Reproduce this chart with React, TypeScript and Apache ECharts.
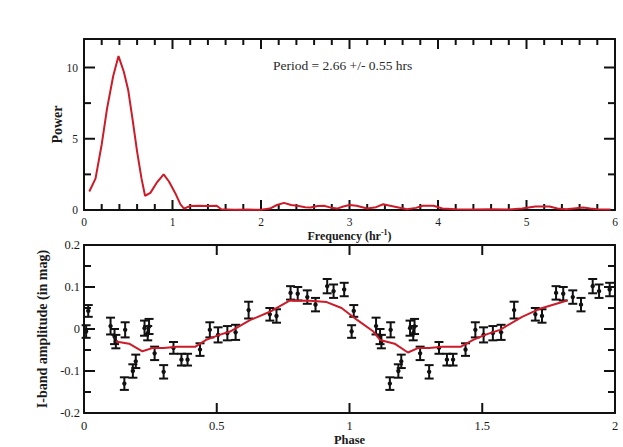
import React, { useEffect, useRef } from "react";
import * as echarts from "echarts";

// Periodogram: [frequency (hr^-1), power]
const periodogram: [number, number][] = [
  [0.06, 1.3], [0.13, 2.2], [0.2, 4.6], [0.26, 7.1], [0.33, 9.4], [0.39, 10.8],
  [0.45, 9.7], [0.5, 8.4], [0.55, 6.3], [0.6, 4.1], [0.65, 2.2], [0.69, 1.0],
  [0.75, 1.2], [0.82, 1.9], [0.9, 2.5], [0.96, 2.0], [1.03, 1.2], [1.09, 0.4],
  [1.13, 0.1], [1.2, 0.28], [1.3, 0.3], [1.4, 0.28], [1.5, 0.3], [1.55, 0.05],
  [1.7, 0.02], [1.85, 0.03], [2.0, 0.02], [2.1, 0.1], [2.18, 0.35], [2.26, 0.5],
  [2.34, 0.35], [2.41, 0.3], [2.5, 0.2], [2.56, 0.17], [2.64, 0.28], [2.71, 0.3],
  [2.8, 0.15], [2.86, 0.1], [2.93, 0.25], [3.0, 0.35], [3.08, 0.3], [3.2, 0.1],
  [3.3, 0.2], [3.38, 0.4], [3.5, 0.25], [3.65, 0.05], [3.75, 0.15], [3.83, 0.3],
  [3.95, 0.3], [4.05, 0.1], [4.2, 0.05], [4.4, 0.04], [4.6, 0.05], [4.8, 0.04],
  [4.95, 0.1], [5.1, 0.25], [5.26, 0.25], [5.35, 0.1], [5.45, 0.05], [5.56, 0.12],
  [5.64, 0.17], [5.72, 0.1], [5.8, 0.05], [5.95, 0.03],
];

// Phase-folded light curve, one cycle: phase, amplitude (mag), error
const cyclePhase = [
  0.008, 0.016, 0.1, 0.115, 0.12, 0.152, 0.155, 0.184, 0.195, 0.228, 0.24, 0.245,
  0.266, 0.3, 0.337, 0.367, 0.39, 0.437, 0.474, 0.505, 0.54, 0.571, 0.62, 0.7,
  0.725, 0.778, 0.805, 0.841, 0.872, 0.916, 0.94, 0.98,
];
const cycleAmp = [
  -0.006, 0.043, 0.007, -0.018, -0.03, -0.13, -0.002, -0.1, -0.077, 0.002, -0.01, 0.006,
  -0.058, -0.102, -0.045, -0.073, -0.073, -0.049, -0.002, -0.014, -0.01, -0.008, 0.045, 0.035,
  0.031, 0.086, 0.084, 0.076, 0.058, 0.102, 0.09, 0.094,
];
const cycleErr = [
  0.015, 0.014, 0.02, 0.018, 0.016, 0.015, 0.018, 0.016, 0.016, 0.018, 0.017, 0.018,
  0.016, 0.016, 0.014, 0.014, 0.014, 0.015, 0.018, 0.018, 0.017, 0.018, 0.02, 0.015,
  0.016, 0.016, 0.016, 0.016, 0.016, 0.017, 0.016, 0.016,
];
// The plot shows the folded cycle twice (phase 0-1 and 1-2)
const cycleOffsets = [0, 1];

// Red model curve: [phase, amplitude]
const fitCurve: [number, number][] = [
  [0.12, -0.03], [0.17, -0.035], [0.22, -0.053], [0.26, -0.045], [0.3, -0.045],
  [0.35, -0.042], [0.42, -0.042], [0.46, -0.026], [0.51, -0.014], [0.55, -0.006],
  [0.625, 0.021], [0.7, 0.041], [0.776, 0.068], [0.85, 0.067], [0.914, 0.064],
  [0.97, 0.05], [1.03, 0.021], [1.09, -0.006], [1.115, -0.026], [1.17, -0.035],
  [1.22, -0.056], [1.26, -0.045], [1.3, -0.045], [1.35, -0.042], [1.42, -0.042],
  [1.466, -0.026], [1.51, -0.014], [1.567, -0.002], [1.65, 0.029], [1.72, 0.049],
  [1.82, 0.068],
];

// Tick values (mirrored on the opposite frame sides)
const freqMajor = [1, 2, 3, 4, 5];
const freqMinor = [0.2, 0.4, 0.6, 0.8, 1.2, 1.4, 1.6, 1.8, 2.2, 2.4, 2.6, 2.8, 3.2, 3.4, 3.6, 3.8, 4.2, 4.4, 4.6, 4.8, 5.2, 5.4, 5.6, 5.8];
const powerMajor = [0, 5, 10];
const powerMinor = [2.5, 7.5];
const phaseMajor = [0.5, 1, 1.5];
const ampMajor = [-0.1, 0, 0.1];
const ampMinor = [-0.15, -0.05, 0.05, 0.15];

const titleText = "Period = 2.66 +/- 0.55 hrs";

const FONT = "Liberation Serif, Times New Roman, serif";
const INK = "#111";
const RED = "#cc1b29";

const axLine = () => ({ show: true, onZero: false, lineStyle: { color: INK, width: 2 } });
const lbl = (size: number, margin: number) => ({
  show: true, margin, fontFamily: FONT, fontSize: size, color: "#1a1a1a",
});
const nameTS = (size: number) => ({ fontFamily: FONT, fontSize: size, fontWeight: "bold", color: "#1a1a1a" });

// kind: 0 x-major, 1 x-minor, 2 y-major, 3 y-minor
const tickItems = (xMaj: number[], xMin: number[], yMaj: number[], yMin: number[]) => [
  ...xMaj.map((v) => [v, 0]),
  ...xMin.map((v) => [v, 1]),
  ...yMaj.map((v) => [v, 2]),
  ...yMin.map((v) => [v, 3]),
];

const tickRenderer = (x0: number, x1: number, y0: number, y1: number) => (_p: any, api: any) => {
  const v = api.value(0);
  const kind = api.value(1);
  const st = { stroke: INK, lineWidth: 2 };
  if (kind < 2) {
    const len = kind === 0 ? 10 : 6;
    const b = api.coord([v, y0]);
    const t = api.coord([v, y1]);
    return {
      type: "group",
      children: [
        { type: "line", shape: { x1: b[0], y1: b[1], x2: b[0], y2: b[1] - len }, style: st },
        { type: "line", shape: { x1: t[0], y1: t[1], x2: t[0], y2: t[1] + len }, style: st },
      ],
    };
  }
  const len = kind === 2 ? 11 : 7;
  const l = api.coord([x0, v]);
  const r = api.coord([x1, v]);
  return {
    type: "group",
    children: [
      { type: "line", shape: { x1: l[0], y1: l[1], x2: l[0] + len, y2: l[1] }, style: st },
      { type: "line", shape: { x1: r[0], y1: r[1], x2: r[0] - len, y2: r[1] }, style: st },
    ],
  };
};

export default function App() {
  const ref = useRef<HTMLDivElement>(null);

  useEffect(() => {
    document.body.style.margin = "0";
    if (!ref.current) return;
    const chart = echarts.init(ref.current, null, { renderer: "svg" });

    const errData: number[][] = [];
    cycleOffsets.forEach((off) => {
      cyclePhase.forEach((p, i) => errData.push([p + off, cycleAmp[i], cycleErr[i]]));
    });

    chart.setOption({
      animation: false,
      grid: [
        { left: 84, right: 8, top: 39, height: 171 },
        { left: 84, right: 8, top: 245, height: 170 },
      ],
      xAxis: [
        {
          type: "value", gridIndex: 0, position: "bottom", min: 0, max: 6, interval: 1,
          axisLine: axLine(), axisTick: { show: false }, minorTick: { show: false },
          axisLabel: lbl(11.5, 6), splitLine: { show: false },
          name: "Frequency (hr{s|-1})", nameLocation: "middle", nameGap: 18,
          nameTextStyle: { ...nameTS(12), rich: { s: { fontFamily: FONT, fontSize: 8, fontWeight: "bold", verticalAlign: "top", padding: [0, 0, 6, 0] } } },
        },
        {
          type: "value", gridIndex: 0, position: "top", min: 0, max: 6, interval: 1,
          axisLine: axLine(), axisTick: { show: false },
          axisLabel: { show: false }, splitLine: { show: false },
        },
        {
          type: "value", gridIndex: 1, min: 0, max: 2, interval: 0.5,
          axisLine: axLine(), axisTick: { show: false },
          axisLabel: lbl(12.5, 6), splitLine: { show: false },
          name: "Phase", nameLocation: "middle", nameGap: 20, nameTextStyle: nameTS(12.5),
        },
        {
          type: "value", gridIndex: 1, min: 0, max: 2, interval: 0.5,
          axisLine: axLine(), axisTick: { show: false },
          axisLabel: { show: false }, splitLine: { show: false },
        },
      ],
      yAxis: [
        {
          type: "value", gridIndex: 0, position: "left", min: 0, max: 12,
          axisLine: axLine(), axisTick: { show: false },
          axisLabel: { ...lbl(11.5, 6), customValues: powerMajor }, splitLine: { show: false },
          name: "Power", nameLocation: "middle", nameGap: 20, nameMoveOverlap: false, nameTextStyle: nameTS(14),
        },
        {
          type: "value", gridIndex: 0, position: "right", min: 0, max: 12,
          axisLine: axLine(), axisTick: { show: false },
          axisLabel: { show: false }, splitLine: { show: false },
        },
        {
          type: "value", gridIndex: 1, min: -0.2, max: 0.2, interval: 0.1,
          axisLine: axLine(), axisTick: { show: false },
          axisLabel: { ...lbl(12.5, 4), formatter: (v: number) => String(Math.round(v * 10) / 10) },
          splitLine: { show: false },
          name: "I-band amplitude (in mag)", nameLocation: "middle", nameGap: 35, nameMoveOverlap: false, nameTextStyle: nameTS(14),
        },
        {
          type: "value", gridIndex: 1, min: -0.2, max: 0.2, interval: 0.1,
          axisLine: axLine(), axisTick: { show: false },
          axisLabel: { show: false }, splitLine: { show: false },
        },
      ],
      graphic: [
        {
          type: "text", left: 273, top: 58,
          style: { text: titleText, fontFamily: FONT, fontSize: 13.5, fill: "#2a2a2a" },
        },
      ],
      series: [
        {
          type: "custom", xAxisIndex: 0, yAxisIndex: 0, silent: true,
          data: tickItems(freqMajor, freqMinor, powerMajor, powerMinor),
          renderItem: tickRenderer(0, 6, 0, 12),
        },
        {
          type: "custom", xAxisIndex: 2, yAxisIndex: 2, silent: true,
          data: tickItems(phaseMajor, [], ampMajor, ampMinor),
          renderItem: tickRenderer(0, 2, -0.2, 0.2),
        },
        {
          type: "line", xAxisIndex: 0, yAxisIndex: 0, data: periodogram,
          showSymbol: false, lineStyle: { color: RED, width: 2 },
        },
        {
          type: "custom", xAxisIndex: 2, yAxisIndex: 2, data: errData,
          renderItem: (_params: any, api: any) => {
            const x = api.value(0), y = api.value(1), e = api.value(2);
            const top = api.coord([x, y + e]);
            const bot = api.coord([x, y - e]);
            const c = api.coord([x, y]);
            const hw = 4.5;
            return {
              type: "group",
              children: [
                { type: "line", shape: { x1: top[0], y1: top[1], x2: bot[0], y2: bot[1] }, style: { stroke: INK, lineWidth: 2 } },
                { type: "line", shape: { x1: top[0] - hw, y1: top[1], x2: top[0] + hw, y2: top[1] }, style: { stroke: INK, lineWidth: 2 } },
                { type: "line", shape: { x1: bot[0] - hw, y1: bot[1], x2: bot[0] + hw, y2: bot[1] }, style: { stroke: INK, lineWidth: 2 } },
                { type: "circle", shape: { cx: c[0], cy: c[1], r: 2.2 }, style: { fill: INK } },
              ],
            };
          },
        },
        {
          type: "line", xAxisIndex: 2, yAxisIndex: 2, data: fitCurve,
          showSymbol: false, lineStyle: { color: RED, width: 2 },
        },
      ],
    });

    return () => chart.dispose();
  }, []);

  return <div ref={ref} style={{ width: 623, height: 447 }} />;
}
